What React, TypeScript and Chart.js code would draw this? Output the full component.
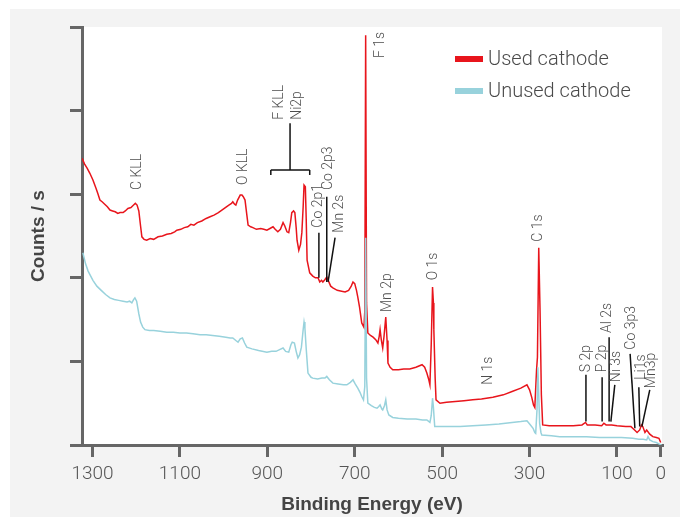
import React, { useEffect, useRef } from "react";
import { Chart, registerables } from "chart.js";

Chart.register(...registerables);

// Binding energy (eV), counts (arbitrary units, 0..5 axis)
const usedCathode: [number, number][] = [
  [1324, 3.43], [1318, 3.36], [1312, 3.31], [1306, 3.25], [1299, 3.17], [1292, 3.07], [1288, 3.01],
  [1283, 2.93], [1278, 2.91], [1272, 2.88], [1266, 2.85], [1260, 2.81], [1254, 2.8], [1248, 2.79],
  [1242, 2.77], [1237, 2.78], [1230, 2.78], [1225, 2.8], [1219, 2.83], [1212, 2.84], [1206, 2.87],
  [1202, 2.89], [1198, 2.87], [1194, 2.8], [1190, 2.62], [1187, 2.49], [1182, 2.46], [1176, 2.45],
  [1168, 2.47], [1160, 2.46], [1150, 2.49], [1140, 2.5], [1130, 2.52], [1120, 2.53], [1112, 2.55],
  [1107, 2.57], [1098, 2.58], [1090, 2.6], [1082, 2.61], [1075, 2.64], [1068, 2.63], [1060, 2.66],
  [1050, 2.68], [1040, 2.71], [1031, 2.73], [1022, 2.75], [1012, 2.78], [1004, 2.81], [996, 2.84],
  [988, 2.87], [982, 2.89], [979, 2.91], [975, 2.88], [972, 2.87], [968, 2.93], [962, 2.99],
  [958, 2.99], [955, 2.97], [951, 2.93], [948, 2.8], [944, 2.63], [938, 2.61], [933, 2.6],
  [925, 2.58], [915, 2.59], [908, 2.58], [901, 2.57], [894, 2.59], [887, 2.61], [882, 2.58],
  [876, 2.55], [870, 2.58], [864, 2.66], [860, 2.62], [855, 2.55], [851, 2.54], [847, 2.66],
  [844, 2.78], [840, 2.8], [837, 2.78], [834, 2.6], [832, 2.45], [828, 2.33], [824, 2.4],
  [821, 2.54], [818, 2.85], [816, 3.11], [813, 3.09], [811, 2.7], [809, 2.21], [803, 2.06],
  [796, 2.02], [790, 2.0], [784, 2.0], [780, 1.95], [776, 1.97], [773, 1.95], [768, 1.98],
  [764, 2.01], [760, 1.96], [755, 1.9], [750, 1.88], [740, 1.85], [730, 1.84], [722, 1.83],
  [714, 1.85], [708, 1.9], [704, 1.95], [700, 1.93], [696, 1.85], [693, 1.77], [689, 1.65],
  [684, 1.46], [679, 1.41], [677, 1.6], [675, 4.9], [673, 1.7], [670, 1.34], [664, 1.31],
  [658, 1.29], [652, 1.26], [647, 1.22], [644, 1.3], [642, 1.38], [639, 1.25], [636, 1.16],
  [633, 1.3], [629, 1.53], [626, 1.25], [624, 0.98], [619, 0.93], [613, 0.9], [600, 0.9],
  [588, 0.91], [574, 0.91], [560, 0.93], [546, 0.96], [540, 0.93], [535, 0.86], [531, 0.79],
  [528, 0.72], [525, 1.2], [522, 1.89], [520, 1.7], [519, 1.38], [516, 0.8], [514, 0.54],
  [505, 0.5], [490, 0.51], [470, 0.52], [450, 0.53], [430, 0.54], [410, 0.55], [384, 0.57],
  [360, 0.6], [340, 0.64], [320, 0.68], [306, 0.72], [300, 0.66], [295, 0.57], [291, 0.48],
  [288, 0.45], [284, 0.9], [282, 1.05], [279, 2.36], [276, 1.6], [273, 0.6], [270, 0.24],
  [255, 0.23], [231, 0.23], [200, 0.23], [180, 0.24], [172, 0.27], [168, 0.24], [150, 0.24],
  [135, 0.23], [130, 0.26], [125, 0.24], [112, 0.24], [100, 0.23], [80, 0.22], [68, 0.22],
  [64, 0.2], [58, 0.17], [54, 0.15], [48, 0.18], [44, 0.24], [41, 0.22], [36, 0.15], [32, 0.18],
  [25, 0.13], [18, 0.1], [10, 0.09], [4, 0.08], [0, 0.03],
];

const unusedCathode: [number, number][] = [
  [1322, 2.3], [1316, 2.17], [1310, 2.08], [1305, 2.03], [1299, 1.97], [1290, 1.9], [1280, 1.85],
  [1270, 1.8], [1260, 1.76], [1250, 1.74], [1240, 1.73], [1230, 1.72], [1221, 1.71], [1215, 1.72],
  [1210, 1.7], [1206, 1.74], [1203, 1.76], [1199, 1.72], [1194, 1.57], [1190, 1.47], [1185, 1.41],
  [1180, 1.38], [1170, 1.37], [1160, 1.37], [1145, 1.36], [1130, 1.35], [1115, 1.35], [1100, 1.34],
  [1085, 1.34], [1070, 1.33], [1054, 1.32], [1040, 1.32], [1025, 1.31], [1010, 1.3], [995, 1.29],
  [985, 1.28], [979, 1.28], [972, 1.25], [967, 1.23], [962, 1.27], [957, 1.28], [952, 1.22],
  [947, 1.17], [935, 1.15], [920, 1.13], [901, 1.11], [890, 1.12], [880, 1.12], [872, 1.14],
  [864, 1.16], [858, 1.12], [851, 1.11], [846, 1.2], [843, 1.23], [838, 1.22], [834, 1.12],
  [830, 1.04], [826, 1.08], [822, 1.17], [818, 1.38], [816, 1.47], [814, 1.4], [811, 1.15],
  [807, 0.86], [800, 0.81], [796, 0.8], [785, 0.79], [775, 0.8], [768, 0.8], [764, 0.82],
  [758, 0.78], [750, 0.74], [738, 0.73], [726, 0.72], [718, 0.72], [710, 0.75], [704, 0.78],
  [699, 0.73], [693, 0.68], [688, 0.63], [684, 0.58], [680, 0.54], [677, 0.7], [675, 2.48],
  [673, 0.8], [670, 0.5], [662, 0.47], [655, 0.45], [649, 0.44], [645, 0.46], [642, 0.48],
  [638, 0.43], [636, 0.42], [632, 0.47], [629, 0.54], [626, 0.42], [622, 0.36], [613, 0.33],
  [600, 0.32], [580, 0.31], [560, 0.31], [545, 0.3], [535, 0.3], [528, 0.27], [525, 0.35],
  [522, 0.56], [520, 0.45], [517, 0.22], [500, 0.22], [480, 0.22], [459, 0.22], [430, 0.23],
  [400, 0.24], [370, 0.25], [340, 0.27], [320, 0.28], [306, 0.29], [298, 0.24], [292, 0.2],
  [288, 0.15], [286, 0.14], [283, 0.42], [281, 0.93], [279, 0.6], [277, 0.26], [274, 0.15],
  [272, 0.12], [250, 0.11], [231, 0.1], [200, 0.1], [170, 0.1], [140, 0.09], [110, 0.09],
  [90, 0.09], [64, 0.08], [50, 0.07], [40, 0.07], [32, 0.06], [29, 0.1], [25, 0.06], [18, 0.04],
  [10, 0.03], [3, 0.01], [-2, 0.0],
];

const seriesLabels = ["Used cathode", "Unused cathode"];
const seriesColors = ["#e8151c", "#98d2dc"];
const xTickValues = [1300, 1100, 900, 700, 500, 300, 100, 0];
const yTickValues = [0, 1, 2, 3, 4, 5];
const xRange = [-3, 1324];
const yRange = [0, 5];
const xTitle = "Binding Energy (eV)";
const yTitle = "Counts / s";

// peak labels: text, energy of label centre, value at bottom of rotated text
const peakLabels: { text: string; e: number; v: number }[] = [
  { text: "C KLL", e: 1198, v: 3.05 },
  { text: "O KLL", e: 954, v: 3.11 },
  { text: "F KLL", e: 871, v: 3.89 },
  { text: "Ni2p", e: 830, v: 3.89 },
  { text: "Co 2p1", e: 782, v: 2.6 },
  { text: "Co 2p3", e: 759, v: 3.05 },
  { text: "Mn 2s", e: 736, v: 2.54 },
  { text: "F 1s", e: 640, v: 4.63 },
  { text: "Mn 2p", e: 624, v: 1.59 },
  { text: "O 1s", e: 519, v: 1.97 },
  { text: "N 1s", e: 393, v: 0.72 },
  { text: "C 1s", e: 279, v: 2.43 },
  { text: "S 2p", e: 169, v: 0.87 },
  { text: "P 2p", e: 134, v: 0.87 },
  { text: "Al 2s", e: 121, v: 1.34 },
  { text: "Ni 3s", e: 102, v: 0.75 },
  { text: "Co 3p3", e: 66, v: 1.14 },
  { text: "Li1s", e: 43, v: 0.78 },
  { text: "Mn3p", e: 22, v: 0.68 },
];

// leader lines: [e1, v1, e2, v2]
const leaderLines: [number, number, number, number][] = [
  [848, 3.85, 848, 3.29],
  [892, 3.29, 803, 3.29],
  [892, 3.29, 892, 3.23],
  [803, 3.29, 803, 3.23],
  [782, 2.54, 782, 2.0],
  [764, 2.97, 764, 1.95],
  [745, 2.48, 761, 1.95],
  [171, 0.84, 171, 0.28],
  [134, 0.81, 134, 0.28],
  [118, 1.29, 118, 0.28],
  [105, 0.72, 114, 0.28],
  [70, 1.09, 59, 0.2],
  [50, 0.69, 48, 0.22],
  [25, 0.66, 43, 0.22],
];

const LIGHT = "Roboto";
const BOLD = "'Liberation Sans', Arial, sans-serif";

const paperPlugin = {
  id: "paper",
  beforeDraw(chart: any) {
    const { ctx, chartArea: a, width, height } = chart;
    ctx.save();
    ctx.fillStyle = "#f3f3f3";
    ctx.fillRect(0, 0, width, height);
    ctx.fillStyle = "#ffffff";
    ctx.fillRect(a.left, a.top, a.right - a.left, a.bottom - a.top);
    ctx.restore();
  },
};

const annotationPlugin = {
  id: "annotations",
  afterDatasetsDraw(chart: any) {
    const { ctx, scales, chartArea: a } = chart;
    const xs = scales.x;
    const ys = scales.y;
    ctx.save();
    ctx.strokeStyle = "#111";
    ctx.lineWidth = 1.5;
    ctx.lineCap = "butt";
    for (const [e1, v1, e2, v2] of leaderLines) {
      ctx.beginPath();
      ctx.moveTo(xs.getPixelForValue(e1), ys.getPixelForValue(v1));
      ctx.lineTo(xs.getPixelForValue(e2), ys.getPixelForValue(v2));
      ctx.stroke();
    }
    ctx.fillStyle = "#4d4d4d";
    ctx.font = `300 14px ${LIGHT}`;
    ctx.textAlign = "left";
    ctx.textBaseline = "middle";
    for (const p of peakLabels) {
      ctx.save();
      ctx.translate(xs.getPixelForValue(p.e), ys.getPixelForValue(p.v));
      ctx.rotate(-Math.PI / 2);
      ctx.fillText(p.text, 0, 0);
      ctx.restore();
    }
    // legend
    ctx.font = `300 20px ${LIGHT}`;
    seriesLabels.forEach((label, i) => {
      const y = a.top + 32 + i * 32;
      ctx.fillStyle = seriesColors[i];
      ctx.fillRect(a.left + 373, y - 3, 28, 6);
      ctx.fillStyle = "#4a4a4a";
      ctx.fillText(label, a.left + 406, y + 1);
    });
    ctx.restore();
  },
};

export default function App() {
  const ref = useRef<HTMLCanvasElement>(null);
  useEffect(() => {
    if (!ref.current) return;
    const chart = new Chart(ref.current, {
      type: "line",
      data: {
        datasets: [
          {
            label: seriesLabels[0],
            data: usedCathode.map(([x, y]) => ({ x, y })),
            borderColor: seriesColors[0],
            borderWidth: 1.5,
            pointRadius: 0,
            tension: 0,
            order: 1,
          },
          {
            label: seriesLabels[1],
            data: unusedCathode.map(([x, y]) => ({ x, y })),
            borderColor: seriesColors[1],
            borderWidth: 1.5,
            pointRadius: 0,
            tension: 0,
            order: 0,
          },
        ],
      },
      options: {
        animation: false,
        responsive: false,
        devicePixelRatio: 1,
        layout: { padding: { top: 18, right: 18, left: 0, bottom: 0 } },
        plugins: { legend: { display: false }, tooltip: { enabled: false } },
        scales: {
          x: {
            type: "linear",
            reverse: true,
            min: xRange[0],
            max: xRange[1],
            afterBuildTicks: (s: any) => {
              s.ticks = xTickValues.map((value) => ({ value }));
            },
            afterFit: (s: any) => {
              s.height = 72;
            },
            grid: { drawOnChartArea: false, drawTicks: true, tickLength: 12, color: "#666", lineWidth: 3 },
            border: { display: true, color: "#666", width: 3 },
            ticks: {
              color: "#555",
              font: { family: LIGHT, size: 19, weight: 300 },
              padding: 6,
              maxRotation: 0,
              autoSkip: false,
              callback: (v: any) => String(v),
            },
            title: {
              display: true,
              text: xTitle,
              color: "#444",
              font: { family: BOLD, size: 19, weight: "bold" },
              padding: { top: 0, bottom: 1 },
            },
          },
          y: {
            type: "linear",
            min: yRange[0],
            max: yRange[1],
            afterBuildTicks: (s: any) => {
              s.ticks = yTickValues.map((value) => ({ value }));
            },
            afterFit: (s: any) => {
              s.width = 72;
            },
            grid: { drawOnChartArea: false, drawTicks: true, tickLength: 12, color: "#666", lineWidth: 3 },
            border: { display: true, color: "#666", width: 3 },
            ticks: { display: false },
            title: {
              display: true,
              text: yTitle,
              color: "#444",
              font: { family: BOLD, size: 19, weight: "bold" },
              padding: { top: 17, bottom: 0 },
            },
          },
        },
      },
      plugins: [paperPlugin, annotationPlugin],
    } as any);
    return () => chart.destroy();
  }, []);
  return (
    <div style={{ position: "absolute", left: 10, top: 9, width: 670, height: 508, background: "#f3f3f3" }}>
      <canvas ref={ref} width={670} height={508} style={{ display: "block", width: 670, height: 508 }} />
    </div>
  );
}
